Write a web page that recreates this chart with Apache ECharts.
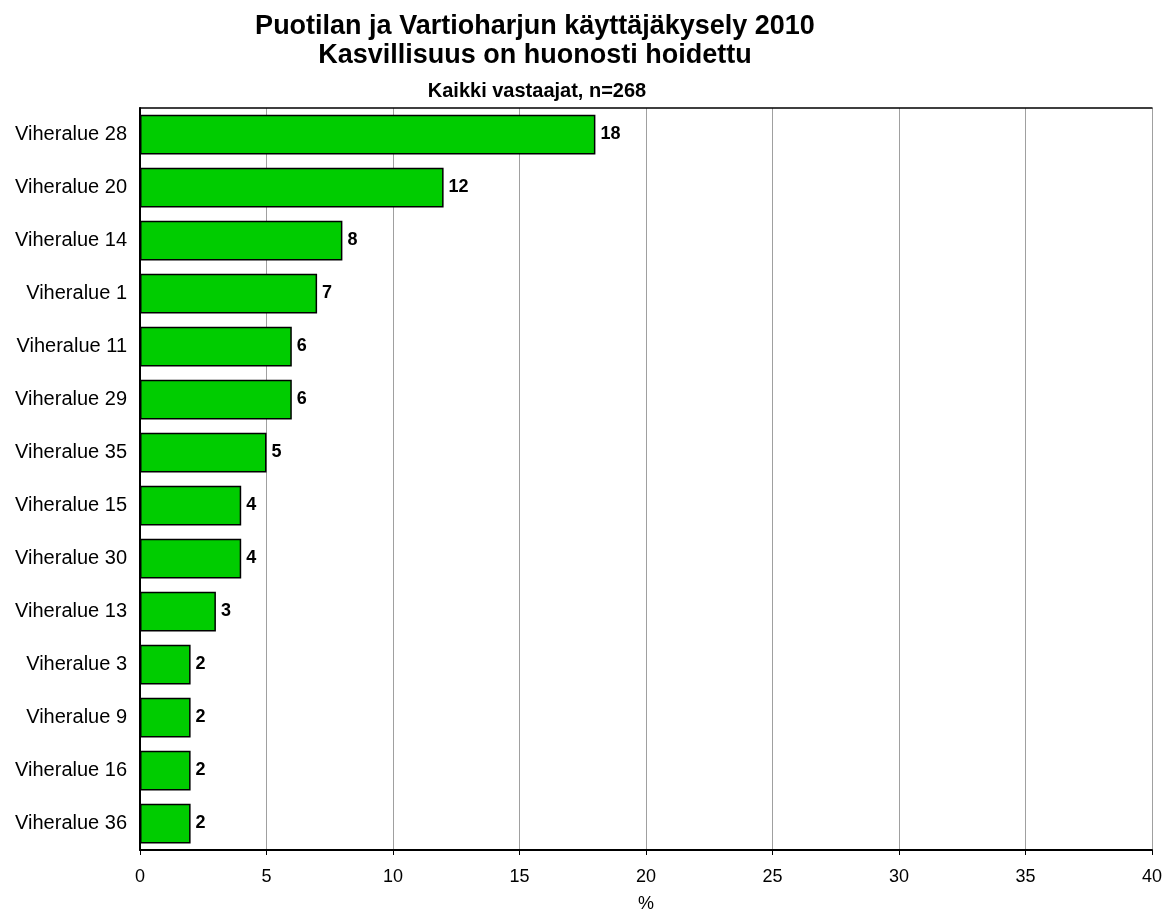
<!DOCTYPE html>
<html>
<head>
<meta charset="utf-8">
<script src="https://cdn.jsdelivr.net/npm/echarts@6/dist/echarts.min.js"></script>
<style>html,body{margin:0;padding:0;background:#fff}#c{width:1165px;height:910px}</style>
</head>
<body>
<div id="c"></div>
<script>
const categories = ['Viheralue 28','Viheralue 20','Viheralue 14','Viheralue 1','Viheralue 11','Viheralue 29','Viheralue 35','Viheralue 15','Viheralue 30','Viheralue 13','Viheralue 3','Viheralue 9','Viheralue 16','Viheralue 36'];
const values = [18,12,8,7,6,6,5,4,4,3,2,2,2,2];
const xTicks = [0,5,10,15,20,25,30,35,40];

const chart = echarts.init(document.getElementById('c'));
const font = 'Liberation Sans, Arial, sans-serif';
chart.setOption({
  animation: false,
  backgroundColor: '#fff',
  title: [
    {text: 'Puotilan ja Vartioharjun käyttäjäkysely 2010\nKasvillisuus on huonosti hoidettu', left: 530, top: 7, textAlign: 'center',
     textStyle: {fontFamily: font, fontSize: 27, fontWeight: 'bold', color: '#000', lineHeight: 29}},
    {text: 'Kaikki vastaajat, n=268', left: 532, top: 76, textAlign: 'center',
     textStyle: {fontFamily: font, fontSize: 20, fontWeight: 'bold', color: '#000'}}
  ],
  grid: {left: 140, right: 13, top: 108, bottom: 60, outerBoundsMode: 'none', containLabel: false},
  xAxis: [{
    type: 'value', min: xTicks[0], max: xTicks[xTicks.length-1], interval: 5,
    name: '%', nameLocation: 'middle', nameGap: 45,
    nameTextStyle: {fontFamily: font, fontSize: 18, color: '#000'},
    axisLine: {show: true, lineStyle: {color: '#000', width: 2}},
    axisTick: {show: true, length: 5, lineStyle: {color: '#000'}},
    axisLabel: {fontFamily: font, fontSize: 18, color: '#000', margin: 18},
    splitLine: {show: true, lineStyle: {color: '#a0a0a0', width: 1}}
  },{
    type: 'value', position: 'top', min: 0, max: 40,
    axisLine: {show: true, lineStyle: {color: '#000', width: 1.5}},
    axisTick: {show: false}, axisLabel: {show: false}, splitLine: {show: false}
  }],
  yAxis: {
    type: 'category', data: categories, inverse: true,
    axisLine: {show: true, lineStyle: {color: '#000', width: 2}},
    axisTick: {show: false},
    axisLabel: {fontFamily: font, fontSize: 20, color: '#000', margin: 13}
  },
  series: [{
    type: 'bar', data: values, barCategoryGap: '25%',
    itemStyle: {color: '#00CC00', borderColor: '#000', borderWidth: 1.5},
    label: {show: true, position: 'right', distance: 5, fontFamily: font, fontSize: 18, fontWeight: 'bold', color: '#000'}
  }]
});
</script>
</body>
</html>
